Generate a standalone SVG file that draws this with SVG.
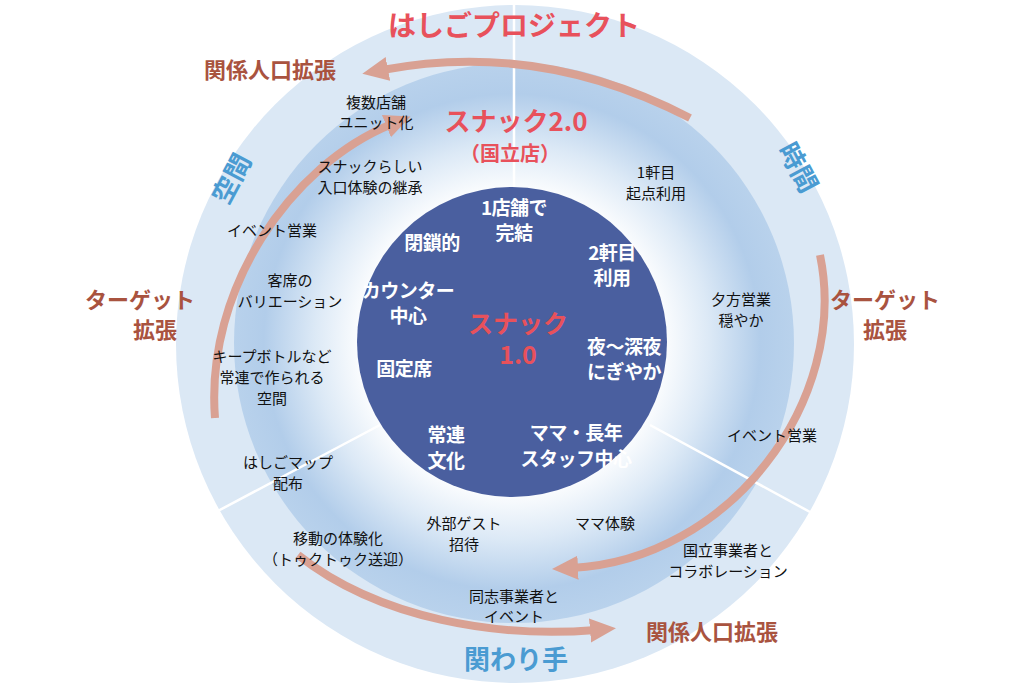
<svg xmlns="http://www.w3.org/2000/svg" width="1028" height="685" viewBox="0 0 1028 685">
<defs>
<radialGradient id="mid" cx="512" cy="342" r="282" gradientUnits="userSpaceOnUse">
<stop offset="0.52" stop-color="#ffffff"/>
<stop offset="0.7" stop-color="#dce9f6"/>
<stop offset="0.88" stop-color="#b2cdea"/>
<stop offset="1" stop-color="#b9d2ec"/>
</radialGradient>
<marker id="ah" markerUnits="userSpaceOnUse" markerWidth="30" markerHeight="30" refX="6" refY="15" orient="auto"><path d="M0 3 L26 15 L0 27 Z" fill="#d9a193"/></marker>
<style>
.t{font-family:"Noto Sans CJK JP","Noto Sans",sans-serif;font-size:15px;fill:#111;text-anchor:middle}
.w{font-family:"Noto Sans CJK JP","Noto Sans",sans-serif;font-size:19px;fill:#fff;text-anchor:middle;font-weight:bold;letter-spacing:-0.5px}
.r{font-family:"Noto Sans CJK JP","Noto Sans",sans-serif;font-size:22px;fill:#a9533f;text-anchor:middle;font-weight:bold}
.b{font-family:"Noto Sans CJK JP","Noto Sans",sans-serif;font-size:26px;fill:#4a9bd2;text-anchor:middle;font-weight:bold}
.p{font-family:"Noto Sans CJK JP","Noto Sans",sans-serif;fill:#e8515b;text-anchor:middle;font-weight:bold}
.a{fill:none;stroke:#d9a193;stroke-width:8;marker-end:url(#ah)}
.d{stroke:#fff;stroke-width:2.5}
</style>
</defs>
<g id="bg">
<circle cx="515" cy="344" r="339" fill="#dbe8f5"/>
<circle cx="514" cy="343" r="280" fill="url(#mid)"/>
</g>
<g id="connectors">
<line class="d" x1="514" y1="5" x2="514" y2="190"/>
<line class="d" x1="380" y1="425" x2="216" y2="512"/>
<line class="d" x1="650" y1="425" x2="810" y2="512"/>
<path class="a" d="M 690 118 Q 540 40 382 70"/>
<path class="a" d="M 215 418 C 205 290 290 165 392 124"/>
<path class="a" d="M 820 255 C 850 400 730 560 572 568"/>
<path class="a" d="M 298 555 C 380 620 500 638 596 630"/>
</g>
<g id="core">
<circle cx="512" cy="342" r="155" fill="#4a5f9f"/>
<text class="w" x="514" y="215">1店舗で</text><text class="w" x="514" y="240">完結</text>
<text class="w" x="432" y="250">閉鎖的</text>
<text class="w" x="612" y="260">2軒目</text><text class="w" x="612" y="285">利用</text>
<text class="w" x="408" y="298">カウンター</text><text class="w" x="408" y="323">中心</text>
<text class="p" x="518" y="333" style="font-size:25px">スナック</text>
<text class="p" x="518" y="364" style="font-size:25px">1.0</text>
<text class="w" x="624" y="354">夜～深夜</text><text class="w" x="624" y="379">にぎやか</text>
<text class="w" x="404" y="376">固定席</text>
<text class="w" x="446" y="442">常連</text><text class="w" x="446" y="468">文化</text>
<text class="w" x="576" y="440">ママ・長年</text><text class="w" x="576" y="466">スタッフ中心</text>
</g>
<g id="labels">
<text class="p" x="514" y="36" style="font-size:28px">はしごプロジェクト</text>
<text class="p" x="516" y="131" style="font-size:26px">スナック2.0</text>
<text class="p" x="510" y="161" style="font-size:20px">（国立店）</text>
<text class="r" x="270" y="78">関係人口拡張</text>
<text class="r" x="140" y="308">ターゲット</text><text class="r" x="155" y="338">拡張</text>
<text class="r" x="885" y="308">ターゲット</text><text class="r" x="885" y="338">拡張</text>
<text class="r" x="712" y="640">関係人口拡張</text>
<text class="b" x="0" y="0" transform="translate(240,183) rotate(-62)">空間</text>
<text class="b" x="0" y="0" transform="translate(790,172) rotate(62)">時間</text>
<text class="b" x="516" y="669">関わり手</text>
<text class="t" x="376" y="108">複数店舗</text><text class="t" x="376" y="128">ユニット化</text>
<text class="t" x="370" y="172">スナックらしい</text><text class="t" x="370" y="193">入口体験の継承</text>
<text class="t" x="272" y="236">イベント営業</text>
<text class="t" x="290" y="286">客席の</text><text class="t" x="290" y="307">バリエーション</text>
<text class="t" x="272" y="362">キープボトルなど</text><text class="t" x="272" y="383">常連で作られる</text><text class="t" x="272" y="404">空間</text>
<text class="t" x="288" y="468">はしごマップ</text><text class="t" x="288" y="489">配布</text>
<text class="t" x="338" y="544">移動の体験化</text><text class="t" x="338" y="565">（トゥクトゥク送迎）</text>
<text class="t" x="464" y="529">外部ゲスト</text><text class="t" x="464" y="550">招待</text>
<text class="t" x="605" y="529">ママ体験</text>
<text class="t" x="514" y="602">同志事業者と</text><text class="t" x="514" y="622">イベント</text>
<text class="t" x="728" y="556">国立事業者と</text><text class="t" x="728" y="577">コラボレーション</text>
<text class="t" x="772" y="441">イベント営業</text>
<text class="t" x="741" y="305">夕方営業</text><text class="t" x="741" y="326">穏やか</text>
<text class="t" x="656" y="178">1軒目</text><text class="t" x="656" y="199">起点利用</text>
</g>
</svg>
